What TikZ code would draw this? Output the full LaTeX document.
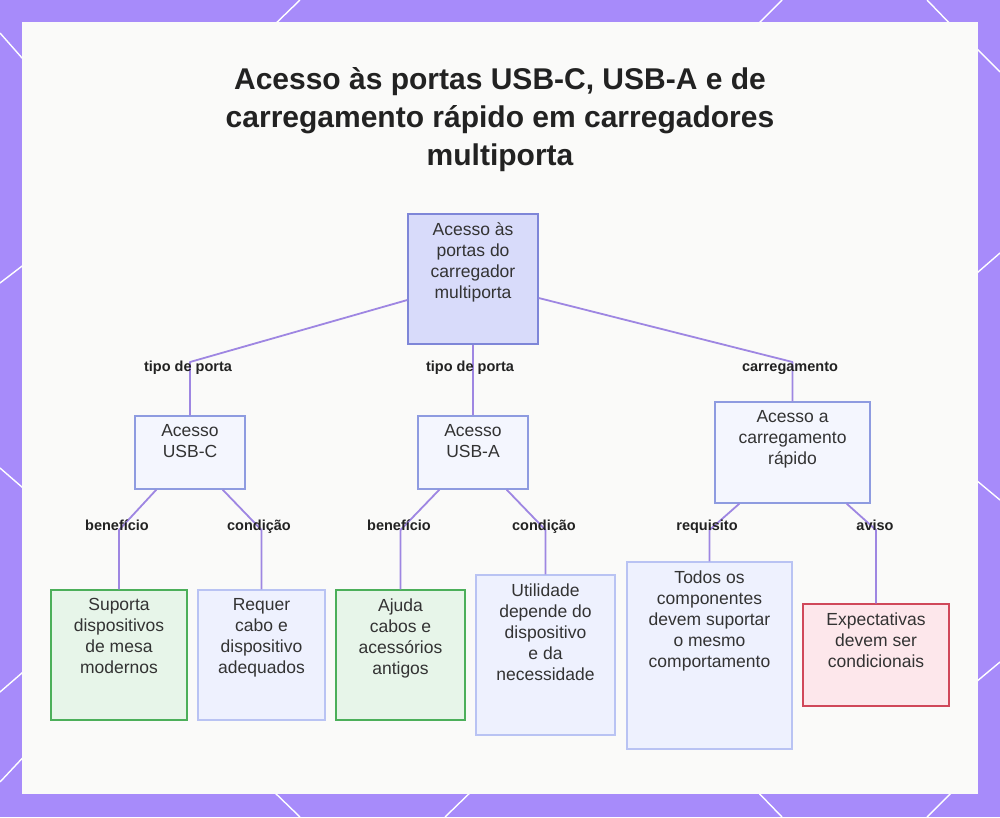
\documentclass[tikz,border=0pt]{standalone}
\usepackage{fontspec}
\setmainfont{Liberation Sans}
\usepackage{xcolor}
\usetikzlibrary{positioning,calc}

\definecolor{bgviolet}{HTML}{A78BFA}
\definecolor{panelwhite}{HTML}{FAFAF9}
\definecolor{titleblack}{HTML}{222222}
\definecolor{textgray}{HTML}{333333}
\definecolor{edgeviolet}{RGB}{158,134,226}
\definecolor{rootfill}{HTML}{D8DBFA}
\definecolor{rootdraw}{HTML}{7E86D8}
\definecolor{midfill}{HTML}{F4F6FE}
\definecolor{middraw}{HTML}{8E9BE0}
\definecolor{infofill}{HTML}{EEF1FE}
\definecolor{infodraw}{HTML}{B9C3F3}
\definecolor{okfill}{HTML}{E7F5E9}
\definecolor{okdraw}{HTML}{4CAF5A}
\definecolor{warnfill}{HTML}{FDE7EB}
\definecolor{warndraw}{HTML}{D0485A}

\begin{document}
\begin{tikzpicture}[
  x=1pt, y=-1pt,
  font=\fontsize{17.5}{21}\selectfont,
  box/.style={rectangle, line width=1.3pt, inner sep=0pt},
  rootbox/.style={box, fill=rootfill, draw=rootdraw},
  midbox/.style={box, fill=midfill, draw=middraw},
  infobox/.style={box, fill=infofill, draw=infodraw},
  okbox/.style={box, fill=okfill, draw=okdraw},
  warnbox/.style={box, fill=warnfill, draw=warndraw},
  txt/.style={anchor=north, align=center, inner sep=0pt, yshift=-9pt, text=textgray},
  edge/.style={draw=edgeviolet, line width=1.8pt, line join=round},
  elabel/.style={anchor=base, font=\bfseries\fontsize{14.5}{16}\selectfont, text=titleblack, inner sep=1pt},
  deco/.style={draw=white, line width=1.4pt},
]
\useasboundingbox (0,0) rectangle (1000,817);
%% Frame
\fill[bgviolet] (0,0) rectangle (1000,817);
\draw[deco] (0,33)--(30,67);     \draw[deco] (270,29)--(300,0);
\draw[deco] (752,30)--(782,0);   \draw[deco] (927,0)--(956,30);
\draw[deco] (970,42)--(1000,72); \draw[deco] (970,279)--(1000,253);
\draw[deco] (970,475)--(1000,500); \draw[deco] (970,687)--(1000,662);
\draw[deco] (0,283)--(30,260);   \draw[deco] (0,468)--(30,494);
\draw[deco] (0,692)--(30,666);   \draw[deco] (0,782)--(30,750);
\draw[deco] (270,788)--(300,817); \draw[deco] (477,786)--(445,817);
\draw[deco] (752,786)--(782,817); \draw[deco] (958,786)--(927,817);
\fill[panelwhite] (22,22) rectangle (978,794);
%% Title
\node[font=\bfseries\fontsize{30}{38}\selectfont, align=center, text=titleblack]
  (title) at (500,120) {Acesso às portas USB-C, USB-A e de\\carregamento rápido em carregadores\\multiporta};
%% Nodes
\node[rootbox, minimum width=130pt, minimum height=130pt,
  label={[txt]north:{Acesso às\\portas do\\carregador\\multiporta}}] (root) at (473,279) {};
\node[midbox, minimum width=110pt, minimum height=73pt,
  label={[txt]north:{Acesso\\USB-C}}] (usbc) at (190,452.5) {};
\node[midbox, minimum width=110pt, minimum height=73pt,
  label={[txt]north:{Acesso\\USB-A}}] (usba) at (473,452.5) {};
\node[midbox, minimum width=155pt, minimum height=101pt,
  label={[txt]north:{Acesso a\\carregamento\\rápido}}] (fast) at (792.5,452.5) {};
\node[okbox, minimum width=136pt, minimum height=130pt,
  label={[txt]north:{Suporta\\dispositivos\\de mesa\\modernos}}] (usbcok) at (119,655) {};
\node[infobox, minimum width=127pt, minimum height=130pt,
  label={[txt]north:{Requer\\cabo e\\dispositivo\\adequados}}] (usbccond) at (261.5,655) {};
\node[okbox, minimum width=129pt, minimum height=130pt,
  label={[txt]north:{Ajuda\\cabos e\\acessórios\\antigos}}] (usbaok) at (400.5,655) {};
\node[infobox, minimum width=139pt, minimum height=160pt,
  label={[txt]north:{Utilidade\\depende do\\dispositivo\\e da\\necessidade}}] (usbacond) at (545.5,655) {};
\node[infobox, minimum width=165pt, minimum height=187pt,
  label={[txt]north:{Todos os\\componentes\\devem suportar\\o mesmo\\comportamento}}] (fastreq) at (709.5,655.5) {};
\node[warnbox, minimum width=146pt, minimum height=102pt,
  label={[txt]north:{Expectativas\\devem ser\\condicionais}}] (fastwarn) at (876,655) {};
%% Bends
\coordinate (kC) at (190,362);  \coordinate (kF) at (792.5,362);
\coordinate (kC1) at (119,530); \coordinate (kC2) at (261.5,530);
\coordinate (kA1) at (400.5,530); \coordinate (kA2) at (545.5,530);
\coordinate (kF1) at (709.5,530); \coordinate (kF2) at (876,530);
%% Edges
\draw[edge] ([yshift=-21pt]root.west) -- (kC) -- (usbc.north);
\draw[edge] (root.south) -- (usba.north);
\draw[edge] ([yshift=-19pt]root.east) -- (kF) -- (fast.north);
\draw[edge] ([xshift=22pt]usbc.south west) -- (kC1) -- (usbcok.north);
\draw[edge] ([xshift=-23pt]usbc.south east) -- (kC2) -- (usbccond.north);
\draw[edge] ([xshift=22pt]usba.south west) -- (kA1) -- (usbaok.north);
\draw[edge] ([xshift=-22pt]usba.south east) -- (kA2) -- (usbacond.north);
\draw[edge] ([xshift=25pt]fast.south west) -- (kF1) -- (fastreq.north);
\draw[edge] ([xshift=-24pt]fast.south east) -- (kF2) -- (fastwarn.north);
%% Edge labels
\node[elabel] at (188,371) {tipo de porta};
\node[elabel] at (470,371) {tipo de porta};
\node[elabel] at (790,371) {carregamento};
\node[elabel] at (117,530) {benefício};
\node[elabel] at (259,530) {condição};
\node[elabel] at (399,530) {benefício};
\node[elabel] at (544,530) {condição};
\node[elabel] at (707,530) {requisito};
\node[elabel] at (875,530) {aviso};
\end{tikzpicture}
\end{document}
